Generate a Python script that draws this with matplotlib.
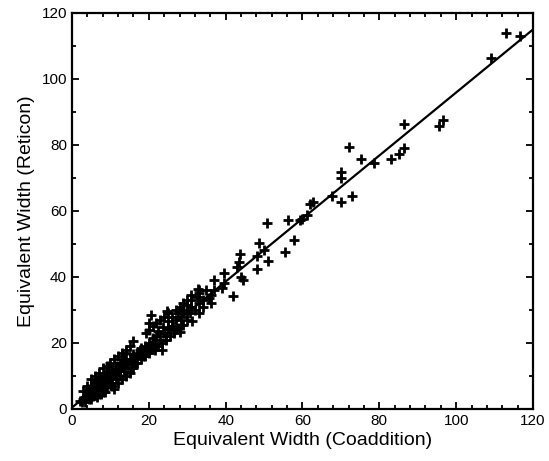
import numpy as np
import matplotlib
matplotlib.use('Agg')
import matplotlib.pyplot as plt
from matplotlib.ticker import MultipleLocator

plt.rc('font', family=['Liberation Sans', 'DejaVu Sans'])

# equivalent widths
coadd = [112.9, 116.7, 109.0, 86.3, 95.6, 96.6, 72.1, 75.1, 78.6, 83.0, 85.0, 86.3,
         69.9, 69.9, 67.6, 70.0, 72.9, 62.7, 62.0, 61.2, 60.0, 50.7, 56.1, 59.4,
         57.7, 55.4, 51.1, 48.7, 50.0, 48.1, 48.1, 43.7, 43.5, 43.0, 44.1, 44.4,
         39.6, 36.9, 39.6, 36.9, 39.1, 41.8, 36.1, 33.0, 36.3, 32.7, 35.8, 31.2,
         30.8, 29.9, 24.8, 20.6, 20.1, 19.4, 28.0, 23.8, 16.0, 23.4, 21.2, 17.7, 14.2,
         28.5, 29, 30, 31, 32, 33, 31, 32.5, 34, 30, 29, 27, 26, 27.5, 25, 26.5, 24,
         25, 22, 23, 24.5, 21.5, 22.5, 20, 19, 21, 18, 19.5, 17, 18.5, 16, 15, 16.5,
         14, 15.5, 13, 12, 13.5, 11, 12.5, 10, 11.5, 9, 10, 8.5, 9.5, 8, 7, 7.5, 6.5,
         6, 7, 8, 5.5, 5, 6, 4.5, 4, 3.5, 3, 2.5, 2, 5, 6.5, 7.5, 8.5, 9, 10.5, 11,
         12, 13, 14, 15, 16, 17, 18, 19, 20, 6, 7, 8, 9, 10, 11, 12, 13, 14, 15, 5, 4,
         3, 6.5, 7.5, 8.5, 9.5, 10.5, 11.5, 12.5, 13.5, 14.5, 15.5, 16.5, 17.5, 18.5,
         19.5, 20.5, 21.5, 22.5, 23.5, 24.5, 25.5, 26.5, 27.5, 28.5, 20, 21, 22, 23,
         24, 25, 26, 27, 28, 29, 30, 31, 33, 34, 33, 35,
         4.5, 5.5, 6.5, 7.5, 8.5, 9.5, 10.5, 11.5, 12.5, 13.5, 3.5, 4.5, 5.5, 7, 8]
reticon = [113.8, 113.0, 106.3, 86.3, 85.8, 87.4, 79.5, 75.7, 74.6, 75.7, 77.1, 79.1,
           71.9, 69.9, 64.6, 62.6, 64.6, 62.8, 62.0, 58.8, 57.6, 56.3, 57.3, 57.3,
           51.2, 47.4, 44.9, 50.2, 48.2, 46.2, 42.3, 47.0, 44.6, 43.1, 40.1, 39.1,
           41.1, 39.1, 38.1, 36.1, 36.6, 34.2, 34.5, 36.1, 32.0, 36.3, 33.5, 26.5,
           29.1, 31.5, 29.8, 28.5, 26.0, 22.9, 23.4, 24.9, 20.7, 17.9, 18.9, 17.9, 16.9,
           28, 30, 29, 31, 30, 32, 33, 34, 33, 27, 25.5, 27, 25, 29, 26.5, 24, 23,
           24.5, 22, 21, 22, 20, 23.5, 20, 19, 21.5, 18.5, 17.5, 17, 16, 16.5, 15, 14,
           13.5, 12.5, 14, 12, 11.5, 11, 10, 10.5, 9, 9, 8, 10, 11.5, 8, 7.5, 9, 8.5,
           6.5, 5.5, 6.5, 5, 7, 4.5, 4, 5.5, 3.5, 3, 2, 2.5, 3, 3.5, 4.5, 5, 6.5, 7, 6,
           8, 9, 10, 11, 12.5, 14, 15, 16, 17, 10, 11, 12.5, 13, 14, 15, 16, 17, 18, 19, 9, 7,
           5.5, 6, 7, 7.5, 8.5, 9.5, 10.5, 11.5, 12.5, 13.5, 14.5, 15.5, 16.5, 17.5,
           18.5, 19.5, 18, 19, 20, 21, 22, 23, 24.5, 25.5, 24, 25, 26, 27,
           28, 29, 28, 30, 31, 32, 33, 34.5, 35, 31, 29, 36,
           6, 7, 8, 9, 10, 11, 12, 13, 14, 15, 2, 3, 4, 4.5, 5]

# linear fit
slope = 0.955
intercept = 0.4

fig = plt.figure(figsize=(5.49, 4.61), dpi=100)
ax = fig.add_axes([0.131, 0.113, 0.840, 0.859])

ax.plot(coadd, reticon, '+', color='black', markersize=7.5, markeredgewidth=2)
xx = np.array([0, 120])
ax.plot(xx, slope * xx + intercept, color='black', linewidth=1.6)

ax.set_xlim(0, 120)
ax.set_ylim(0, 120)
ax.xaxis.set_major_locator(MultipleLocator(20))
ax.xaxis.set_minor_locator(MultipleLocator(4))
ax.yaxis.set_major_locator(MultipleLocator(20))
ax.yaxis.set_minor_locator(MultipleLocator(10))
ax.tick_params(which='both', direction='in', top=True, right=True, width=1.3)
ax.tick_params(which='major', length=5, labelsize=11)
ax.tick_params(which='minor', length=3)
for s in ax.spines.values():
    s.set_linewidth(1.6)

ax.set_xlabel('Equivalent Width (Coaddition)', fontsize=14, labelpad=3)
ax.set_ylabel('Equivalent Width (Reticon)', fontsize=14, labelpad=5)

plt.savefig('out.png', dpi=100)
